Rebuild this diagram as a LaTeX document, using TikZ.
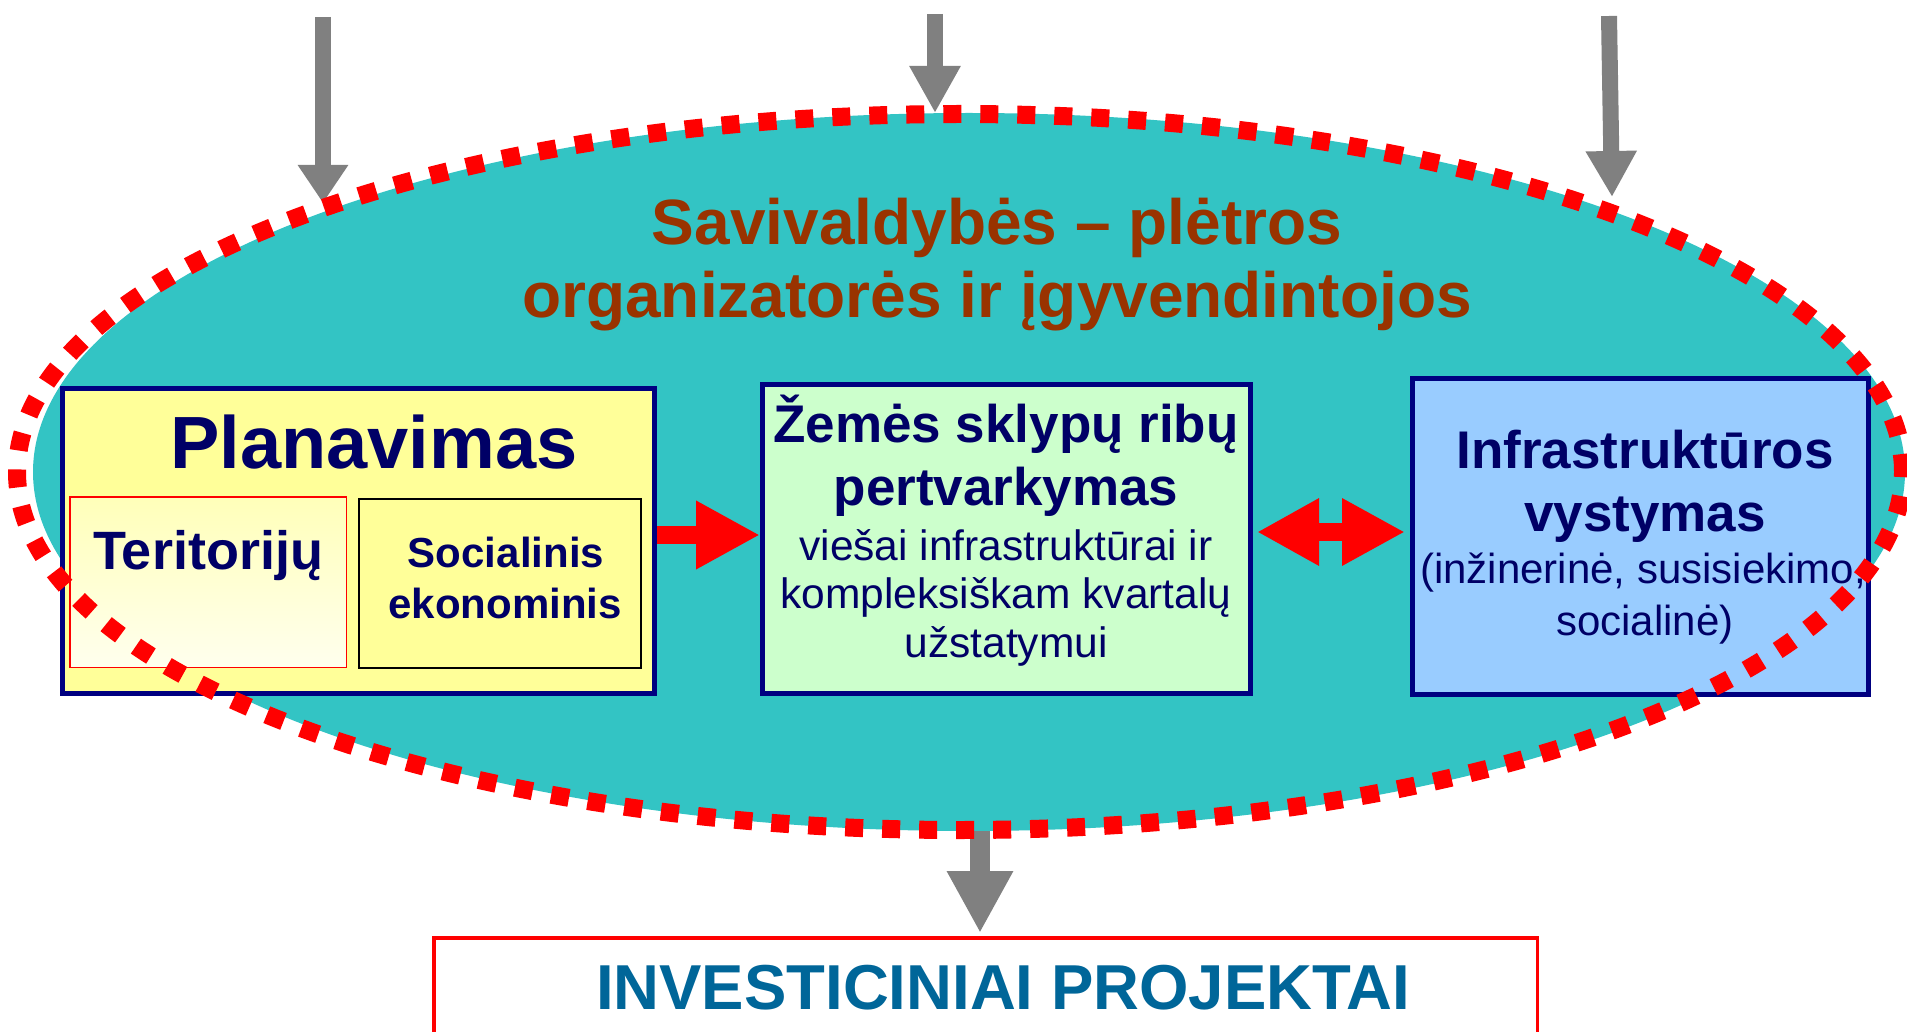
\documentclass[tikz,border=0pt]{standalone}
\usepackage{fontspec}
\setmainfont{Liberation Sans}
\usetikzlibrary{arrows.meta}
\definecolor{tealbg}{RGB}{51,196,196}
\definecolor{navyline}{RGB}{0,0,128}
\definecolor{navytext}{RGB}{0,0,102}
\definecolor{brownt}{RGB}{153,51,0}
\definecolor{bluet}{RGB}{0,102,153}
\definecolor{yelfill}{RGB}{255,255,153}
\definecolor{paletop}{RGB}{255,255,185}
\definecolor{palebot}{RGB}{255,255,238}
\definecolor{greenfill}{RGB}{204,255,204}
\definecolor{bluefill}{RGB}{153,204,255}
\definecolor{grayarr}{RGB}{128,128,128}
\newcommand\setfs[1]{\fontsize{#1}{#1}\selectfont}
\begin{document}
\begin{tikzpicture}[x=1pt,y=-1pt,
  box/.style={draw=navyline, line width=5pt, inner sep=0pt},
  lbl/.style={anchor=base, inner sep=0pt, outer sep=0pt, text=navytext},
  redarrow/.style={draw=red, line width=18pt},
  grayshaft/.style={draw=grayarr}
]
\useasboundingbox (0,0) rectangle (1907,1032);
\begin{scope}
\clip (0,0) rectangle (1907,1032);
\fill[white] (0,0) rectangle (1907,1032);

% teal oval
\fill[tealbg] (969,472) ellipse [x radius=936pt, y radius=359pt];

% title
\node[lbl, text=brownt, font=\bfseries\setfs{64}] (title1) at (997,245) {Savivaldybės – plėtros};
\node[lbl, text=brownt, font=\bfseries\setfs{64}] (title2) at (997,318) {organizatorės ir įgyvendintojos};

% boxes
\node[box, fill=yelfill, minimum width=592pt, minimum height=305pt] (plan) at (358.5,541) {};
\node[draw=red, line width=1.5pt, inner sep=0pt, top color=paletop, bottom color=palebot,
      minimum width=276.5pt, minimum height=170.5pt] (ter) at (208,582) {};
\node[draw=black, line width=2pt, fill=yelfill, inner sep=0pt,
      minimum width=282pt, minimum height=169pt] (soc) at (500,583.5) {};
\node[box, fill=greenfill, minimum width=488pt, minimum height=309pt] (zem) at (1006.5,539) {};
\node[box, fill=bluefill, minimum width=456pt, minimum height=316pt] (infra) at (1640.5,536.5) {};

% texts
\node[lbl, font=\bfseries\setfs{74}] (planT) at (374,468) {Planavimas};
\node[lbl, font=\bfseries\setfs{54}] (terT) at (208,569) {Teritorijų};
\node[lbl, font=\bfseries\setfs{42}] (socA) at (506,567) {Socialinis};
\node[lbl, font=\bfseries\setfs{42}] (socB) at (505,618) {ekonominis};

\node[lbl, font=\bfseries\setfs{53}] (zemA) at (1006,442) {Žemės sklypų ribų};
\node[lbl, font=\bfseries\setfs{53}] (zemB) at (1006,505) {pertvarkymas};
\node[lbl, font=\setfs{42.5}] (zemC) at (1006,560) {viešai infrastruktūrai ir};
\node[lbl, font=\setfs{42.5}] (zemD) at (1006,608) {kompleksiškam kvartalų};
\node[lbl, font=\setfs{42.5}] (zemE) at (1006,657) {užstatymui};

\node[lbl, font=\bfseries\setfs{53}] (infA) at (1645,468) {Infrastruktūros};
\node[lbl, font=\bfseries\setfs{53}] (infB) at (1645,531) {vystymas};
\node[lbl, font=\setfs{42}] (infC) at (1643,583) {(inžinerinė, susisiekimo,};
\node[lbl, font=\setfs{42}] (infD) at (1645,635) {socialinė)};

% red arrows
\coordinate (ya) at (0,535);
\coordinate (yb) at (0,532);
\draw[redarrow, -{Triangle[length=64pt,width=64pt]}] (plan.east |- ya) -- (zem.west |- ya);
\draw[redarrow, {Triangle[length=62pt,width=63pt]}-{Triangle[length=63pt,width=63pt]},
      shorten <=4pt, shorten >=5pt] (zem.east |- yb) -- (infra.west |- yb);

% gray arrows from the top
\coordinate (a1s) at (323,17);
\coordinate (a1e) at (323,203);
\coordinate (a2s) at (935,14);
\coordinate (a2e) at (935,113);
\coordinate (a3s) at (1609,16);
\coordinate (a3e) at (1612,197);
\draw[grayshaft, line width=16pt, -{Triangle[length=38pt,width=48pt]}] (a1s) -- (a1e);
\draw[grayshaft, line width=16pt, -{Triangle[length=47pt,width=48pt]}] (a2s) -- (a2e);
\draw[grayshaft, line width=16pt, -{Triangle[length=46pt,width=48pt]}] (a3s) -- (a3e);

% bottom box
\node[draw=red, line width=3.5pt, fill=white, inner sep=0pt,
      minimum width=1103.5pt, minimum height=140pt] (invest) at (985.5,1007.75) {};
\node[lbl, text=bluet, font=\bfseries\setfs{63.5}] (invT) at (1003,1009) {INVESTICINIAI PROJEKTAI};

% bottom arrow
\coordinate (bs) at (980,831);
\draw[grayshaft, line width=20pt, -{Triangle[length=62pt,width=62pt]}, shorten >=3pt] (bs) -- (bs |- invest.north);

% red dotted oval on top
\draw[draw=red, line width=18pt, dash pattern=on 18pt off 19pt] (960,472) ellipse [x radius=943pt, y radius=358pt];
\end{scope}
\end{tikzpicture}
\end{document}
